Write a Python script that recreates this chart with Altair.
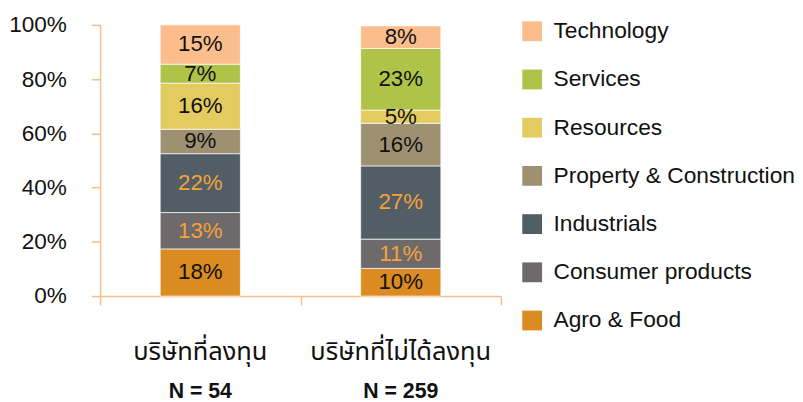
import altair as alt
import pandas as pd

groups = ["บริษัทที่ลงทุน", "บริษัทที่ไม่ได้ลงทุน"]
n_labels = ["N = 54", "N = 259"]
sectors = ["Agro & Food", "Consumer products", "Industrials",
           "Property & Construction", "Resources", "Services", "Technology"]
colors = ["#DA8B21", "#6E6A6B", "#525E65", "#9D9171", "#E3CB60", "#AFC349", "#FBBD8B"]
invested = [17.4, 13.4, 21.7, 9.0, 17.0, 7.0, 14.5]
not_invested = [10.2, 10.8, 27.0, 15.7, 4.9, 22.7, 8.3]
labels_invested = ["18%", "13%", "22%", "9%", "16%", "7%", "15%"]
labels_not_invested = ["10%", "11%", "27%", "16%", "5%", "23%", "8%"]
orange_label_sectors = ["Consumer products", "Industrials"]
boundaries = [0, 1, 2]

FONT = "Liberation Sans"
THAI_FONT = "Noto Sans Thai, Noto Serif Thai, Loma, Garuda, Tlwg Typo, Norasi, Kinnari, Noto Sans, sans-serif"
AXIS_COLOR = "#F9BE8E"
TEXT = "#111111"

rows = []
for g, vals, labs in [(groups[0], invested, labels_invested),
                      (groups[1], not_invested, labels_not_invested)]:
    for i, (s, v, l) in enumerate(zip(sectors, vals, labs)):
        rows.append({"group": g, "sector": s, "value": v, "label": l, "order": i,
                     "tcolor": "#F4A23A" if s in orange_label_sectors else TEXT})
df = pd.DataFrame(rows)
df_n = pd.DataFrame({"group": groups, "n": n_labels})
df_b = pd.DataFrame({"b": boundaries})

xscale = alt.Scale(domain=groups, paddingInner=0.6, paddingOuter=0.3)

base = alt.Chart(df).transform_stack(
    stack="value", groupby=["group"], as_=["y0", "y1"],
    sort=[alt.SortField("order", order="ascending")]
).transform_calculate(mid="(datum.y0 + datum.y1) / 2")

bars = base.mark_bar(stroke="white", strokeWidth=0.7).encode(
    x=alt.X("group:N", sort=groups, scale=xscale, axis=None),
    y=alt.Y("y0:Q", scale=alt.Scale(domain=[0, 100], nice=False),
            axis=alt.Axis(title=None, values=[0, 20, 40, 60, 80, 100],
                          labelExpr="datum.value + '%'", labelFontSize=22.8, labelFont=FONT,
                          labelColor=TEXT, tickSize=9, tickColor=AXIS_COLOR, tickWidth=1.5,
                          domainColor=AXIS_COLOR, domainWidth=1.5, labelPadding=25,
                          grid=False)),
    y2="y1:Q",
    color=alt.Color("sector:N",
                    scale=alt.Scale(domain=list(reversed(sectors)), range=list(reversed(colors))),
                    legend=alt.Legend(title=None, orient="none", legendX=425, legendY=-5,
                                      symbolType="square", symbolSize=400, symbolStrokeWidth=0,
                                      labelFontSize=23, labelFont=FONT, labelColor=TEXT,
                                      labelOffset=10, rowPadding=24.7, labelLimit=400)),
)

text = base.mark_text(fontSize=22.5, font=FONT, baseline="middle").encode(
    x=alt.X("group:N", sort=groups, scale=xscale, axis=None),
    y=alt.Y("mid:Q"),
    text="label:N",
    fill=alt.Fill("tcolor:N", scale=None),
)

thai = alt.Chart(df_n).mark_text(fontSize=25.7, font=THAI_FONT, color=TEXT,
                                 baseline="middle").encode(
    x=alt.X("group:N", sort=groups, scale=xscale, axis=None),
    y=alt.value(331),
    text="group:N",
)

ntext = alt.Chart(df_n).mark_text(fontSize=21.5, font=FONT, fontWeight="bold",
                                  color=TEXT, baseline="middle").encode(
    x=alt.X("group:N", sort=groups, scale=xscale, axis=None),
    y=alt.value(371),
    text="n:N",
)

ticks = alt.Chart(df_b).mark_rule(opacity=0).encode(
    x=alt.X("b:Q", scale=alt.Scale(domain=[0, 2], nice=False),
            axis=alt.Axis(orient="bottom", title=None, values=boundaries, labels=False,
                          tickSize=9, tickColor=AXIS_COLOR, tickWidth=1.5,
                          domainColor=AXIS_COLOR, domainWidth=1.5, grid=False)),
)

chart = alt.layer(alt.layer(bars, text, thai, ntext), ticks).resolve_scale(
    x="independent"
).properties(
    width=405, height=274,
    autosize=alt.AutoSizeParams(type="none"),
    padding={"left": 93, "top": 15, "right": 297, "bottom": 105},
).configure_view(stroke=None)

chart.save("out.html", embed_options={"renderer": "svg", "actions": False})
